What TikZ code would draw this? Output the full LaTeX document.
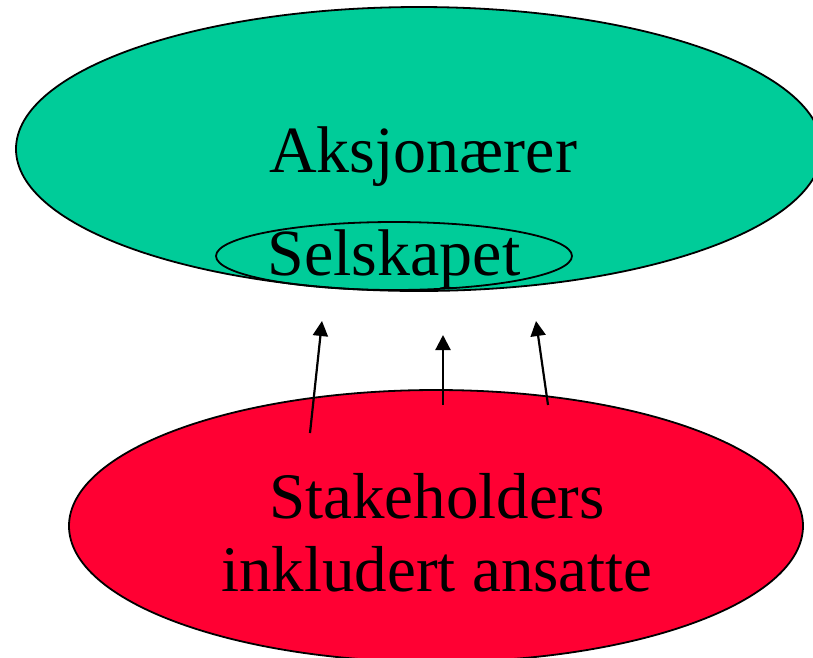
\documentclass[tikz,border=0pt]{standalone}
\usepackage{fontspec}
\setmainfont{Liberation Serif}
\usetikzlibrary{arrows.meta,shapes.geometric}
\definecolor{aksgreen}{RGB}{0,204,153}
\definecolor{stakered}{RGB}{255,0,51}
\tikzset{
  blob/.style={ellipse, draw=black, line width=1.8pt, inner sep=0pt},
  bigtext/.style={font=\fontsize{66}{68}\selectfont, align=center},
  pil/.style={-{Triangle[length=15pt,width=15pt]}, line width=2.2pt}
}
\begin{document}
\begin{tikzpicture}[x=1pt,y=-1pt]
 \useasboundingbox (0,0) rectangle (813,657);

 % aksjonaerer og selskapet
 \node [blob, fill=aksgreen, minimum width=806pt, minimum height=284pt] (aksjonaerer) at (419,149) {};
 \node [bigtext] (aksjtekst) at (423,157) {Aksjonærer};
 \node [blob, minimum width=356pt, minimum height=68pt] (selskapet) at (394,256) {};
 \node [bigtext] at (394,260) {Selskapet};

 % stakeholders
 \node [blob, fill=stakered, minimum width=734pt, minimum height=272pt] (stake) at (436,526) {};
 \node [bigtext, font=\fontsize{65}{73}\selectfont] (staketekst) at (437,533) {Stakeholders\\inkludert ansatte};

 % pilene
 \coordinate (v0) at (310,433); \coordinate (v1) at (322,321);
 \coordinate (m0) at (443,405); \coordinate (m1) at (443,335);
 \coordinate (h0) at (548,405); \coordinate (h1) at (536,321);
 \draw [pil] (v0) -- (v1);
 \draw [pil] (m0) -- (m1);
 \draw [pil] (h0) -- (h1);
\end{tikzpicture}
\end{document}
